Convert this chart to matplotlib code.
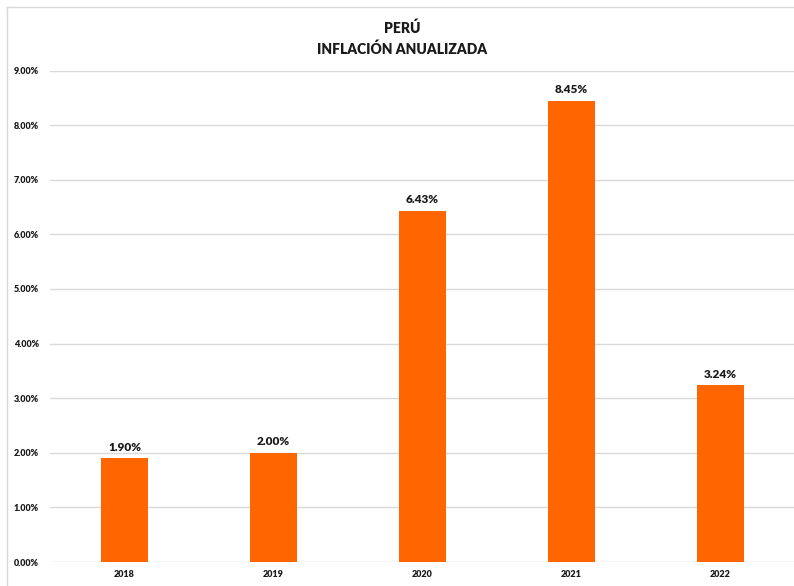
import numpy as np
import matplotlib
matplotlib.use("Agg")
import matplotlib.pyplot as plt
from matplotlib.lines import Line2D

# data
years = ["2018", "2019", "2020", "2021", "2022"]
inflation = [1.90, 2.00, 6.43, 8.45, 3.24]
yticks = [0, 1, 2, 3, 4, 5, 6, 7, 8, 9]

plt.rcParams['font.family'] = ['Lato', 'DejaVu Sans']

W, H = 794, 586
fig = plt.figure(figsize=(W / 100, H / 100), dpi=100)
ax = fig.add_axes([50 / W, (H - 562) / H, 745 / W, (562 - 70.5) / H])

x = np.arange(len(years))
ax.bar(x, inflation, width=0.315, color="#FF6600", zorder=3)
for xi, v in zip(x, inflation):
    ax.annotate(f"{v:.2f}%", (xi, v), xytext=(0, 4), textcoords="offset points",
                ha="center", va="bottom", fontsize=8.5, fontweight="heavy",
                color="#1a1a1a")

ax.set_xlim(-0.5, len(years) - 0.5)
ax.set_ylim(0, 9)
ax.set_yticks(yticks)
ax.set_yticklabels([f"{t:.2f}%" for t in yticks])
ax.set_xticks(x)
ax.set_xticklabels(years)
ax.tick_params(axis="both", length=0, labelsize=6.5, labelcolor="#1a1a1a")
ax.tick_params(axis="y", pad=8)
ax.tick_params(axis="x", pad=6)
for lab in ax.get_xticklabels() + ax.get_yticklabels():
    lab.set_fontweight("heavy")
ax.grid(axis="y", color="#d9d9d9", linewidth=1, zorder=0)
for s in ax.spines.values():
    s.set_visible(False)

fig.text(402 / W, 1 - 38 / H, "PERÚ\nINFLACIÓN ANUALIZADA", ha="center",
         va="center", fontsize=10, fontweight="heavy", color="#1a1a1a",
         linespacing=1.55)

# light chart-area border (left and top visible)
fig.add_artist(Line2D([7 / W, 7 / W], [0, 1 - 7 / H], color="#d9d9d9", lw=1))
fig.add_artist(Line2D([7 / W, 1], [1 - 7 / H, 1 - 7 / H], color="#d9d9d9", lw=1))

fig.savefig("out.png", dpi=100)
